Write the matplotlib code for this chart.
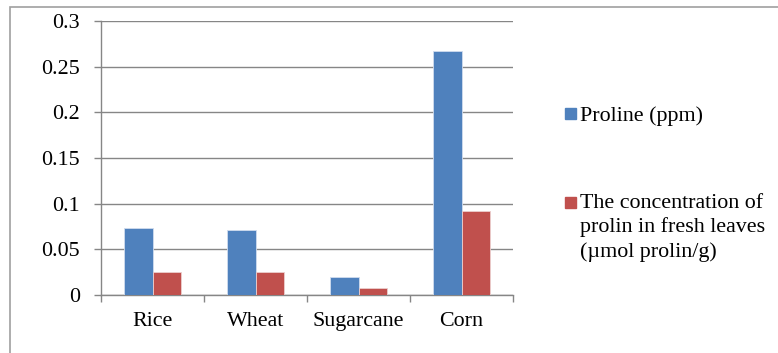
import numpy as np
import matplotlib.pyplot as plt
from matplotlib.patches import Rectangle

crops = ['Rice', 'Wheat', 'Sugarcane', 'Corn']
proline_ppm = [0.0737, 0.0715, 0.020, 0.2675]
proline_leaves = [0.0255, 0.0255, 0.0073, 0.0923]
yticks = [0, 0.05, 0.1, 0.15, 0.2, 0.25, 0.3]
ytick_labels = ['0', '0.05', '0.1', '0.15', '0.2', '0.25', '0.3']
series_names = ['Proline (ppm)',
                'The concentration of\nprolin in fresh leaves\n(\u00b5mol prolin/g)']
colors = ['#4F81BD', '#C0504D']

plt.rcParams['font.family'] = ['Liberation Serif', 'DejaVu Serif']
fs = 15.8

fig = plt.figure(figsize=(7.78, 3.53), dpi=100)
# outer chart frame, open on the right and bottom
fig.patches.append(Rectangle((10 / 778, -0.1), 1.2, 1 - 7 / 353 + 0.1,
                             transform=fig.transFigure, fill=False,
                             edgecolor='#a0a0a0', linewidth=1.2))

ax = fig.add_axes([101 / 778, 1 - 295 / 353, 412 / 778, 274 / 353])

x = np.arange(len(crops))
w = 0.28
ax.bar(x - w / 2, proline_ppm, w, color=colors[0], edgecolor='#d0dcee',
       linewidth=0.6, zorder=3)
ax.bar(x + w / 2, proline_leaves, w, color=colors[1], edgecolor='#eccfce',
       linewidth=0.6, zorder=3)

ax.set_xlim(-0.5, len(crops) - 0.5)
ax.set_ylim(0, 0.3)
ax.set_yticks(yticks)
ax.set_yticklabels(ytick_labels)
ax.set_xticks(x)
ax.set_xticklabels(crops)
ax.set_xticks(np.arange(len(crops) + 1) - 0.5, minor=True)
ax.tick_params(axis='x', which='major', length=0, pad=12, labelsize=fs)
ax.tick_params(axis='x', which='minor', length=5, color='#868686', width=1)
ax.tick_params(axis='y', length=5, color='#868686', width=1, labelsize=fs, pad=10)

ax.grid(axis='y', color='#868686', linewidth=1, zorder=0)
for side in ['top', 'right']:
    ax.spines[side].set_visible(False)
for side in ['left', 'bottom']:
    ax.spines[side].set_color('#868686')
    ax.spines[side].set_linewidth(1)

# legend: square marker beside the first line of each entry
legend_rows = [114, 202]
for name, color, row in zip(series_names, colors, legend_rows):
    fig.patches.append(Rectangle((565 / 778, 1 - (row + 5.5) / 353), 11 / 778, 11 / 353,
                                 transform=fig.transFigure, color=color))
    fig.text(580 / 778, 1 - (row - 8) / 353, name, fontsize=fs, va='top',
             ha='left', linespacing=1.3)

fig.savefig('out.png', dpi=100)
